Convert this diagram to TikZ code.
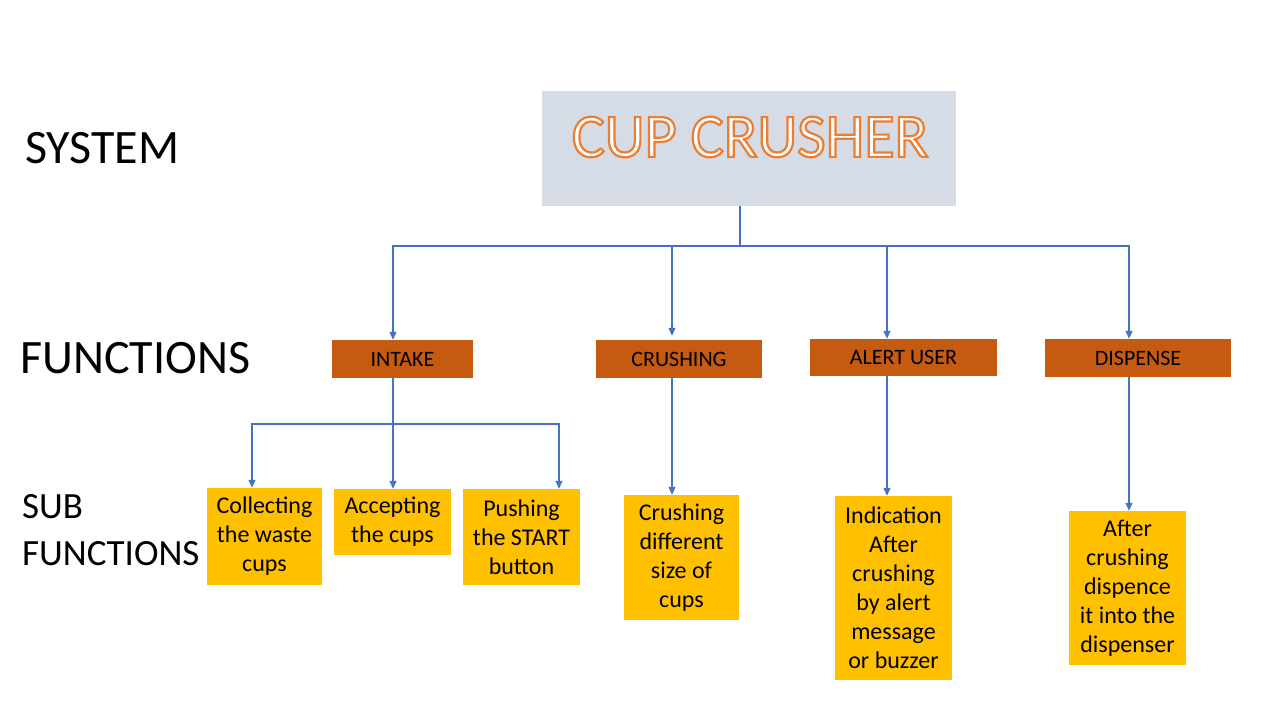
\documentclass[tikz,border=0pt]{standalone}
\usepackage{xcolor}
\usepackage{fontspec}
\setmainfont{Carlito}
\usetikzlibrary{shapes, arrows.meta, positioning, calc}

\definecolor{sysgray}{HTML}{D6DCE5}
\definecolor{funcorange}{HTML}{C55A11}
\definecolor{subyellow}{HTML}{FFC000}
\definecolor{linkblue}{HTML}{4472C4}

\newcommand{\outlinetext}[1]{%
  \special{pdf:literal direct 0.93 0.49 0.19 RG 2.2 w 2 Tr}#1\special{pdf:literal direct 0 Tr}}

\begin{document}
\begin{tikzpicture}[
    x=1pt, y=-1pt,
    level/.style={
        anchor=west, inner sep=0pt, align=left,
        font=\fontsize{48}{57}\selectfont
    },
    func/.style={
        fill=funcorange, minimum width=#1, minimum height=38pt, inner sep=0pt,
        font=\fontsize{22}{26}\selectfont
    },
    sub/.style={
        fill=subyellow, minimum width=#1, inner sep=0pt, align=center,
        font=\fontsize{24}{29}\selectfont
    },
    line/.style={draw=linkblue, line width=1.2pt},
    arr/.style={-{Triangle[length=8pt, width=7pt]}, draw=linkblue, line width=1.2pt}
]
\useasboundingbox (0,0) rectangle (1280,720);

% Levels
\node[level] (lsys) at (25, 148) {SYSTEM};
\node[level] (lfunc) at (20, 358) {FUNCTIONS};
\node[level, font=\fontsize{37}{47}\selectfont] (lsub) at (22, 530) {SUB\\FUNCTIONS};

% System
\node[fill=sysgray, minimum width=414pt, minimum height=115pt] (sys) at (749, 148.5) {};
\node[text=white, font=\fontsize{62}{72}\selectfont] (systitle) at (750, 137) {\outlinetext{CUP CRUSHER}};

% Functions
\node[func=141pt] (intake) at (402.5, 359) {INTAKE};
\node[func=166pt] (crushing) at (679, 359) {CRUSHING};
\node[func=187pt, minimum height=37pt] (alert) at (903.5, 357.5) {ALERT USER};
\node[func=186pt] (dispense) at (1138, 358) {DISPENSE};

% Sub functions
\node[sub=115pt, minimum height=97pt] (collect) at (264.5, 536.5) {Collecting\\the waste\\cups};
\node[sub=117pt, minimum height=66pt] (accept) at (392.5, 522) {Accepting\\the cups};
\node[sub=117pt, minimum height=96pt] (push) at (521.5, 537) {Pushing\\the START\\button};
\node[sub=115pt, minimum height=125pt] (crushsize) at (681.5, 557.5) {Crushing\\different\\size of\\cups};
\node[sub=117pt, minimum height=184pt] (indicate) at (893.5, 588) {Indication\\After\\crushing\\by alert\\message\\or buzzer};
\node[sub=117pt, minimum height=154pt] (dispcup) at (1127.5, 588) {After\\crushing\\dispence\\it into the\\dispenser};

% Arrows
\coordinate (hub) at (740, 246);
\coordinate (split) at (393, 424);
\draw[line] (sys.south -| hub) -- (hub);
\draw[arr] (hub) -| ([xshift=-9.5pt]intake.north);
\draw[arr, shorten >=4pt] (hub) -| ([xshift=-7pt]crushing.north);
\draw[arr] (hub) -| ([xshift=-16.5pt]alert.north);
\draw[arr] (hub) -| ([xshift=-9pt]dispense.north);

\draw[line] (intake.south -| split) -- (split);
\draw[arr] (split) -| ([xshift=-12.5pt]collect.north);
\draw[arr] (split) -- (split |- accept.north);
\draw[arr] (split) -| ([xshift=37.5pt]push.north);

\draw[arr] ([xshift=-7pt]crushing.south) -- ([xshift=-7pt]crushing.south |- crushsize.north);
\draw[arr] ([xshift=-16.5pt]alert.south) -- ([xshift=-16.5pt]alert.south |- indicate.north);
\draw[arr] ([xshift=-9pt]dispense.south) -- ([xshift=-9pt]dispense.south |- dispcup.north);

\end{tikzpicture}
\end{document}
